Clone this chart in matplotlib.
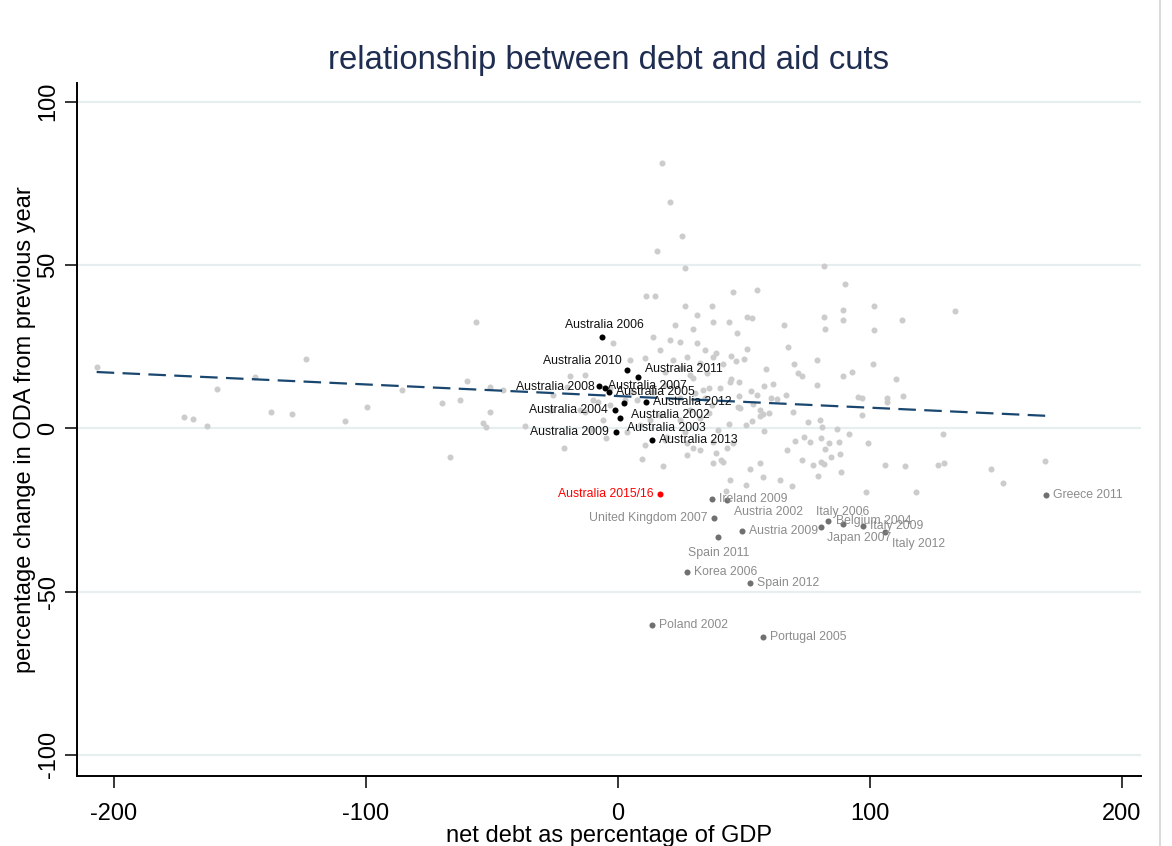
import numpy as np
import matplotlib
matplotlib.use("Agg")
import matplotlib.pyplot as plt
from matplotlib.lines import Line2D

plt.rcParams['font.family'] = ['Liberation Sans', 'DejaVu Sans']
plt.rcParams['axes.unicode_minus'] = False

# all other donor-years (light grey)
other_x = [-206.7, -172.1, -168.5, -162.9, -159.0, -143.8, -137.6, -129.3, -123.7, -108.3,
           -99.3, -85.5, -69.8, -66.5, -62.4, -59.8, -56.2, -53.2, -52.0, -50.6,
           -50.6, -45.3, -36.7, -26.4, -25.5, -20.2, -21.2, -18.8, -14.9, -12.9,
           -12.9, -9.6, -10.9, -7.7, -5.8, -4.6, -3.0, -3.0, -1.7, 3.0,
           3.8, 5.0, 5.8, 7.6, 8.9, 9.6, 10.9, 10.9, 11.3, 12.9,
           14.1, 14.2, 14.9, 15.7, 16.9, 16.9, 17.5, 17.9, 18.8, 18.8,
           19.0, 19.5, 20.8, 20.8, 22.0, 22.8, 24.6, 24.8, 24.8, 25.5,
           25.5, 26.8, 26.9, 26.9, 27.4, 27.4, 27.5, 28.8, 28.8, 29.8,
           30.0, 30.1, 30.8, 31.4, 31.4, 32.7, 32.7, 32.7, 34.0, 34.7,
           34.7, 35.4, 36.3, 36.3, 37.4, 37.5, 37.8, 38.0, 38.0, 38.0,
           39.0, 39.0, 39.9, 40.7, 41.0, 42.0, 42.0, 43.1, 43.3, 44.4,
           44.4, 44.6, 44.6, 45.0, 45.0, 45.7, 46.0, 46.9, 47.3, 47.7,
           48.1, 48.2, 48.6, 50.3, 50.9, 51.0, 51.3, 51.4, 52.6, 52.9,
           53.2, 53.2, 53.6, 55.3, 55.5, 56.5, 56.5, 56.5, 57.6, 57.9,
           58.1, 58.3, 58.9, 60.3, 60.9, 61.8, 63.4, 64.5, 66.0, 66.7,
           67.4, 67.5, 69.1, 69.8, 70.0, 70.4, 71.5, 73.1, 73.3, 74.1,
           75.6, 76.4, 77.5, 79.0, 79.3, 79.7, 80.4, 80.6, 80.6, 81.1,
           82.0, 82.0, 82.0, 82.3, 82.3, 83.8, 84.6, 87.0, 87.9, 88.3,
           88.7, 89.5, 89.5, 89.5, 90.2, 92.0, 93.0, 95.4, 97.1, 97.2,
           98.6, 99.5, 101.3, 101.7, 101.9, 106.2, 107.1, 107.1, 110.5, 112.8,
           113.2, 114.1, 118.5, 127.3, 129.3, 129.7, 133.9, 148.2, 153.0, 169.8]
other_y = [18.8, 3.5, 2.8, 0.8, 12.0, 15.8, 4.9, 4.4, 21.2, 2.3,
           6.6, 11.7, 7.7, -8.7, 8.7, 14.6, 32.5, 1.5, 0.5, 5.1,
           12.6, 11.7, 0.7, 5.6, 10.2, 12.7, -6.1, 16.0, 5.6, 16.3,
           5.0, 8.7, -0.5, 8.1, 2.6, -2.9, 7.1, 12.2, 26.0, 8.7,
           -1.1, 20.9, 11.1, 8.7, 1.0, -9.5, 21.5, -5.1, 40.5, 2.6,
           11.1, 28.0, 40.5, 54.4, 23.9, 4.1, 81.3, -11.5, 17.3, -3.6,
           13.2, -2.6, 69.3, 27.0, 20.9, 31.6, 26.5, 9.2, 2.6, 58.9,
           18.4, -1.1, 49.2, 37.5, 21.9, -4.6, -8.2, 16.3, 5.6, 30.4,
           15.3, -6.1, 10.8, 34.7, 26.0, 19.9, 3.2, -6.6, 11.7, 24.0,
           9.3, 16.8, 12.4, 4.6, 37.4, 7.2, -10.5, 32.6, 21.9, -4.1,
           23.0, -7.7, -0.5, 12.2, -9.7, 19.6, -10.2, -19.1, -6.1, 32.5,
           1.2, 14.3, -15.8, 22.1, 15.0, 41.7, -4.6, 20.7, 29.1, 6.4,
           14.1, 9.9, 6.1, 21.3, 1.0, -17.5, 34.2, 24.2, -12.6, 11.3,
           33.7, 2.3, 7.4, 10.1, 42.2, 5.6, 3.6, -10.5, -14.8, 4.3,
           13.0, -0.8, 18.2, 4.6, 9.1, 13.6, 8.9, -15.8, 31.6, 10.1,
           -6.6, 25.0, -17.6, 5.1, 19.6, -3.8, 17.0, -9.7, 16.1, -2.8,
           1.9, -4.3, -11.4, 13.3, 21.0, -14.7, 2.5, -2.9, -10.4, 0.5,
           49.7, 33.9, -11.0, 30.5, -6.3, -4.6, -8.7, -0.3, -4.3, -8.0,
           -13.3, 36.2, 33.1, 16.1, 44.3, -1.7, 17.2, 9.6, 9.3, 3.9,
           -19.4, -4.6, 19.6, 30.2, 37.4, -11.2, 9.4, 8.1, 15.0, 33.1,
           9.9, -11.5, -19.4, -11.2, -1.9, -10.5, 35.9, -12.4, -16.7, -10.0]

# Australia, earlier years (black)
aus_names = ["Australia 2006", "Australia 2010", "Australia 2011", "Australia 2008",
             "Australia 2007", "Australia 2005", "Australia 2012", "Australia 2004",
             "Australia 2002", "Australia 2003", "Australia 2009", "Australia 2013"]
aus_x = [-6.3, 3.8, 8.3, -7.3, -5.0, -3.4, 11.2, -1.0, 2.7, 1.0, -0.6, 13.6]
aus_y = [28.0, 17.9, 15.8, 13.0, 12.3, 11.0, 8.1, 5.6, 7.8, 3.1, -1.3, -3.6]

# big aid cuts elsewhere (dark grey)
cut_names = ["Ireland 2009", "Austria 2002", "United Kingdom 2007", "Spain 2011",
             "Austria 2009", "Korea 2006", "Spain 2012", "Poland 2002", "Portugal 2005",
             "Italy 2006", "Belgium 2004", "Japan 2007", "Italy 2009", "Italy 2012",
             "Greece 2011"]
cut_x = [37.4, 43.3, 38.4, 40.0, 49.3, 27.7, 52.6, 13.6, 57.9,
         89.3, 83.4, 80.6, 97.6, 106.1, 170.0]
cut_y = [-21.7, -21.9, -27.6, -33.4, -31.4, -44.0, -47.5, -60.3, -63.8,
         -29.3, -28.5, -30.1, -29.9, -31.7, -20.4]

# Australia 2015/16 (red)
now_name = "Australia 2015/16"
now_x = 16.9
now_y = -20.1

# linear fit
fit_intercept = 9.85
fit_slope = -0.0356

# label offsets in points (dx, dy, ha)
lab_pos = {
    "Australia 2006": (2, 8.5, 'center'), "Australia 2010": (-4, 6, 'right'),
    "Australia 2011": (5, 5.5, 'left'), "Australia 2008": (-3, -1, 'right'),
    "Australia 2007": (2, 1.5, 'left'), "Australia 2005": (5, 0, 'left'),
    "Australia 2012": (5, 0, 'left'), "Australia 2004": (-5, 0, 'right'),
    "Australia 2002": (5, -9, 'left'), "Australia 2003": (5, -7, 'left'),
    "Australia 2009": (-5, 0, 'right'), "Australia 2013": (5, 0, 'left'),
    "Austria 2002": (5, -9, 'left'), "United Kingdom 2007": (-5, 0, 'right'),
    "Spain 2011": (0, -11, 'center'), "Italy 2006": (0, 8.5, 'center'),
    "Belgium 2004": (6, 0, 'left'), "Japan 2007": (4.3, -8.4, 'left'),
    "Italy 2012": (4.8, -9, 'left'), "Australia 2015/16": (-5, 0, 'right'),
}


def put_label(ax, name, x, y, color):
    dx, dy, ha = lab_pos.get(name, (5, 0, 'left'))
    ax.annotate(name, (x, y), xytext=(dx, dy), textcoords='offset points',
                ha=ha, va='center', fontsize=8.8, color=color, zorder=6)


def main():
    fig = plt.figure(figsize=(11.72, 8.46), dpi=100)
    ax = fig.add_axes([0.0657, 0.0827, 0.9078, 0.8192])

    for t in [-100, -50, 0, 50, 100]:
        ax.axhline(t, color='#e6eef0', lw=1.6, zorder=0)

    ax.scatter(other_x, other_y, s=19, color='#cccccc', linewidths=0, zorder=2)

    xs = np.array([min(other_x), max(cut_x)])
    ax.plot(xs, fit_intercept + fit_slope * xs, color='#1a476f', lw=1.6,
            dashes=(7.9, 3.75), zorder=3)

    ax.scatter(cut_x, cut_y, s=19, color='#707070', linewidths=0, zorder=4)
    ax.scatter(aus_x, aus_y, s=19, color='black', linewidths=0, zorder=5)
    ax.scatter([now_x], [now_y], s=19, color='#ff0000', linewidths=0, zorder=5)

    for n, x, y in zip(cut_names, cut_x, cut_y):
        put_label(ax, n, x, y, '#8c8c8c')
    for n, x, y in zip(aus_names, aus_x, aus_y):
        put_label(ax, n, x, y, '#111111')
    put_label(ax, now_name, now_x, now_y, '#ff0000')

    ax.set_xlim(-214.5, 207.7)
    ax.set_ylim(-106.5, 105.7)
    ax.set_xticks([-200, -100, 0, 100, 200])
    ax.set_yticks([-100, -50, 0, 50, 100])
    ax.tick_params(length=8.6, width=1.1, labelsize=17, color='black')
    ax.tick_params(axis='x', pad=11)
    ax.tick_params(axis='y', pad=4)
    plt.setp(ax.get_yticklabels(), rotation=90, va='center')

    for s in ['top', 'right']:
        ax.spines[s].set_visible(False)
    for s in ['left', 'bottom']:
        ax.spines[s].set_linewidth(1.4)

    ax.set_xlabel("net debt as percentage of GDP", fontsize=17, labelpad=0)
    ax.set_ylabel("percentage change in ODA from previous year", fontsize=17, labelpad=1)
    fig.text(609 / 1172, 1 - 60 / 846, "relationship between debt and aid cuts",
             ha='center', va='center', fontsize=23.7, color='#1e2d50')

    # outer frame line at the right edge
    fig.add_artist(Line2D([1160 / 1172, 1160 / 1172], [0, 1], color='#d4d4d4', lw=1.2))

    fig.savefig("out.png", dpi=100)


if __name__ == "__main__":
    main()
